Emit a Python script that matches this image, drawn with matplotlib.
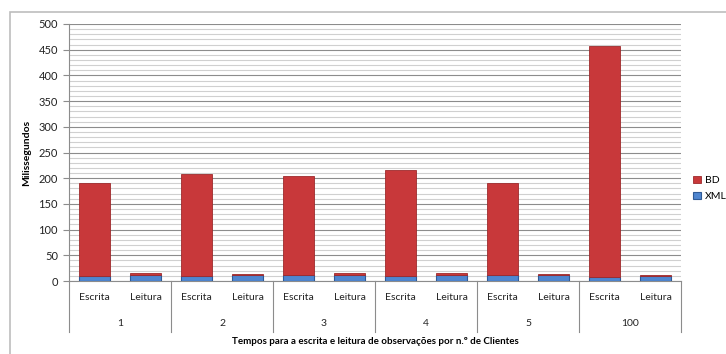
import matplotlib.pyplot as plt
import matplotlib.transforms as mtransforms
from matplotlib.patches import Rectangle
import numpy as np

plt.rcParams['font.family'] = ['Lato', 'DejaVu Sans']

clientes = ['1', '2', '3', '4', '5', '100']
operacoes = ['Escrita', 'Leitura']
# valores (ms), por cliente: escrita, leitura
xml = [10.5, 12, 9, 11, 11, 12, 10.5, 12, 11.5, 11, 8.5, 9]
total = [190, 15.5, 209, 13.5, 205, 15.5, 215, 15.5, 191, 13.5, 458, 11.5]
bd = [t - x for t, x in zip(total, xml)]

fig = plt.figure(figsize=(7.26, 3.54), dpi=100)
ax = fig.add_axes([69 / 726, 73 / 354, 612 / 726, 257 / 354])

fig.patches.append(Rectangle((10 / 726, -0.05), 1.0, 1.05 - 12 / 354,
                             transform=fig.transFigure, fill=False,
                             edgecolor='#bdbdbd', linewidth=1.2))

pos = np.arange(len(total))
ax.bar(pos, xml, width=0.59, color='#4F86D0', edgecolor='#2F5A96',
       linewidth=0.8, label='XML', zorder=3)
ax.bar(pos, bd, bottom=xml, width=0.59, color='#C8383A', edgecolor='#9E2A2C',
       linewidth=0.6, label='BD', zorder=3)

ax.set_xlim(-0.5, len(total) - 0.5)
ax.set_ylim(0, 500)
ax.set_yticks(np.arange(0, 501, 50))
ax.set_yticks(np.arange(0, 501, 10), minor=True)
ax.grid(axis='y', which='major', color='#8c8c8c', linewidth=0.8, zorder=0)
ax.grid(axis='y', which='minor', color='#d0d0d0', linewidth=0.8, zorder=0)
ax.set_axisbelow(True)
ax.tick_params(axis='y', which='major', labelsize=8, colors='#8c8c8c',
               length=4, width=0.8, pad=4)
ax.tick_params(axis='y', which='minor', length=0)
for lab in ax.get_yticklabels():
    lab.set_color('#222222')
ax.set_xticks([])
for s in ['top', 'right']:
    ax.spines[s].set_visible(False)
for s in ['left', 'bottom']:
    ax.spines[s].set_color('#8c8c8c')
    ax.spines[s].set_linewidth(0.8)

trans = mtransforms.blended_transform_factory(ax.transData, ax.transAxes)
for i in range(len(total)):
    ax.text(pos[i], -17 / 257, operacoes[i % 2], transform=trans,
            ha='center', va='center', fontsize=7.5, color='#222222')
for g, c in enumerate(clientes):
    ax.text(2 * g + 0.5, -43 / 257, c, transform=trans,
            ha='center', va='center', fontsize=7.5, color='#222222')
for g in range(len(clientes) + 1):
    ax.plot([2 * g - 0.5, 2 * g - 0.5], [0, -51 / 257], transform=trans,
            color='#8c8c8c', linewidth=0.8, clip_on=False)

ax.set_ylabel('Milissegundos', fontsize=7.5, fontweight='bold', labelpad=5)
fig.text(375 / 726, 1 - 342 / 354,
         'Tempos para a escrita e leitura de observações por n.º de Clientes',
         ha='center', va='center', fontsize=7, fontweight='bold')

handles, labels = ax.get_legend_handles_labels()
ax.legend(handles[::-1], labels[::-1], loc='center left',
          bbox_to_anchor=(1.005, 0.36), frameon=False, fontsize=7.5,
          handlelength=0.7, handleheight=0.7, handletextpad=0.4,
          labelspacing=0.6)

fig.savefig('out.png', dpi=100)
